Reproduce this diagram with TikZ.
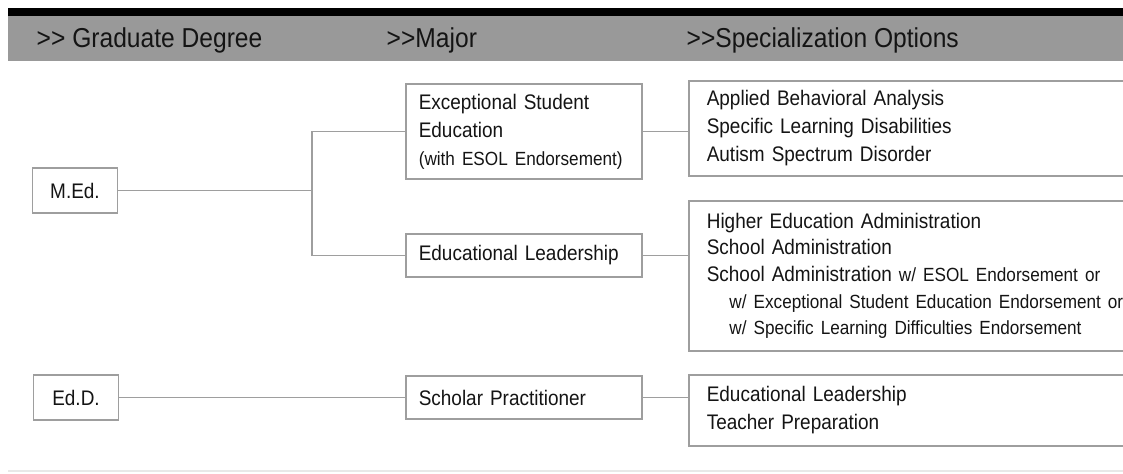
\documentclass[tikz,border=0pt]{standalone}
\usepackage{fontspec}
\setmainfont{Liberation Sans}[FakeStretch=0.9]
\usetikzlibrary{calc}
\definecolor{linegray}{RGB}{158,158,158}
\definecolor{bargray}{RGB}{153,153,153}
\definecolor{rulegray}{RGB}{232,232,232}
\definecolor{txt}{RGB}{20,20,20}
\newcommand{\hdtext}{\fontsize{20.5}{24}\selectfont}
\newcommand{\bodytext}{\fontsize{15.8}{21}\selectfont}
\newcommand{\smalltext}{\fontsize{14.3}{19}\selectfont}
\newcommand{\hdarrow}{>\kern0pt>}

\begin{document}
\begin{tikzpicture}[x=0.75pt,y=0.75pt,yscale=-1,xscale=1,
	box/.style={draw=linegray,line width=1.2pt,text=txt,font=\bodytext},
	degbox/.style={box,minimum width=63.75pt,minimum height=33.75pt,inner sep=0pt},
	majbox/.style={box,anchor=west,align=left,text width=157.5pt,inner xsep=9.75pt,minimum height=32.25pt},
	specbox/.style={box,anchor=west,align=left,text width=330pt,inner xsep=13.5pt},
	link/.style={draw=linegray,line width=1.2pt},
	head/.style={anchor=base west,font=\hdtext,text=txt}]
	\clip (0,0) rectangle (1123,474);
	
	%Shape: header bars
	\fill[black] (8,8) rectangle (1123,16);
	\fill[bargray] (8,16) rectangle (1123,61);
	%Straight Lines: bottom rule
	\draw[rulegray,line width=1.5pt] (8,471) -- (1123,471);
	
	% Text Node
	\node[head] (hd-deg) at (32,48) {\hdarrow\ Graduate Degree};
	% Text Node
	\node[head] (hd-maj) at (382,48) {\hdarrow Major};
	% Text Node
	\node[head] (hd-opt) at (682,48) {\hdarrow Specialization Options};
	
	%Shape: degrees
	\node[degbox] (med) at (75,190.5) {M.Ed.};
	\node[degbox] (edd) at (76,397.5) {Ed.D.};
	
	%Shape: majors
	\node[majbox,minimum height=71.25pt] (ese) at (405,131.5) {Exceptional Student\\Education\\{\smalltext (with ESOL Endorsement)}};
	\node[majbox] (el) at (405,255.5) {Educational Leadership};
	\node[majbox] (sp) at (405,397.5) {Scholar Practitioner};
	
	%Shape: specialization options
	\node[specbox,minimum height=71.25pt] (ese-opt) at (688,128.5) {Applied Behavioral Analysis\\Specific Learning Disabilities\\Autism Spectrum Disorder};
	\node[specbox,minimum height=112.5pt,font=\fontsize{15.8}{20}\selectfont] (el-opt) at (688,276) {Higher Education Administration\\School Administration\\School Administration {\smalltext w/ ESOL Endorsement or}\\
		\hspace*{17pt}{\smalltext w/ Exceptional Student Education Endorsement or}\\
		\hspace*{17pt}{\smalltext w/ Specific Learning Difficulties Endorsement}};
	\node[specbox,minimum height=53.25pt] (sp-opt) at (688,410.5) {Educational Leadership\\Teacher Preparation};
	
	%Straight Lines: connectors
	\coordinate (fork) at (312,190.5);
	\draw[link] (med.east) -- (med.east -| fork);
	\draw[link] (ese.west) -- (ese.west -| fork) -- (el.west -| fork) -- (el.west);
	\draw[link] (ese.east) -- (ese.east -| ese-opt.west);
	\draw[link] (el.east) -- (el.east -| el-opt.west);
	\draw[link] (edd.east) -- (sp.west);
	\draw[link] (sp.east) -- (sp.east -| sp-opt.west);
\end{tikzpicture}
\end{document}
